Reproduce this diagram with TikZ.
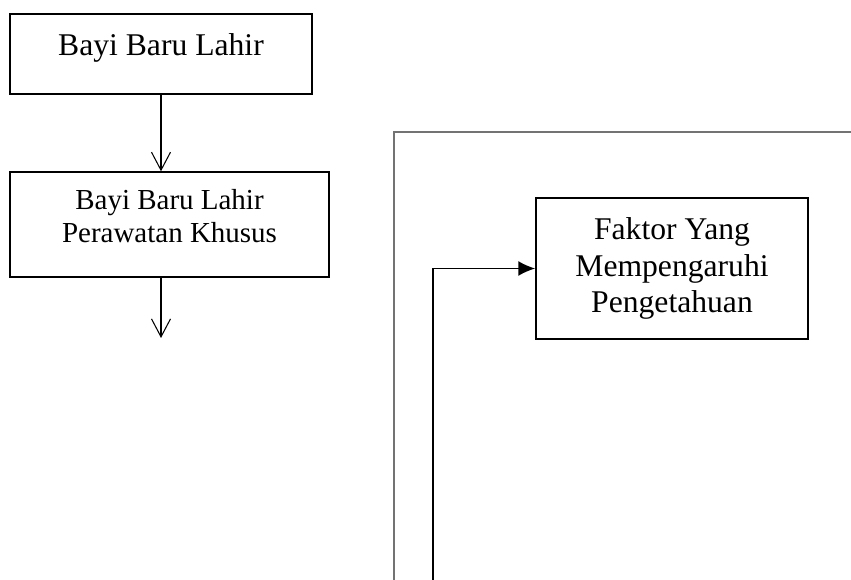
\documentclass[tikz,border=0pt]{standalone}
\usepackage{fontspec}
\setmainfont{Liberation Serif}
\usetikzlibrary{arrows.meta}
\begin{document}
\begin{tikzpicture}[x=0.02cm,y=-0.02cm]

    \tikzset{
      kotak/.style={
        draw,
        line width=0.8pt,
        inner sep=0pt,
        align=center,
        font=\fontsize{18pt}{20.8pt}\selectfont,
      },
      panah/.style={
        line width=0.6pt,
        -{Straight Barb[length=0.36cm,width=0.38cm]},
      },
      alur/.style={
        line width=1.1pt,
        -{Latex[length=0.34cm,width=0.3cm]},
      },
      bingkai/.style={
        draw=black!55,
        line width=0.9pt,
      },
    }
	\useasboundingbox (0,0) rectangle (851,580);
	\clip (0,0) rectangle (851,580);

	\node[kotak,minimum width=6.04cm,text height=0.82cm,text depth=0.78cm] (bayi) at (161,54.2) {Bayi Baru Lahir};
	\node[kotak,minimum width=6.38cm,text height=1.42cm,text depth=0.68cm,font=\fontsize{16.5pt}{18.8pt}\selectfont] (perawatan) at (169.5,224.5) {Bayi Baru Lahir\\Perawatan Khusus};
	\node[kotak,minimum width=5.44cm,text height=2.30cm,text depth=0.52cm] (faktor) at (672,268.5) {Faktor Yang\\Mempengaruhi\\Pengetahuan};

	\coordinate (ujung) at (161,338);
	\coordinate (masuk) at (433,600);

	\draw[bingkai] (394,600)--(394,132)--(870,132);
	\draw[panah] (bayi.south)--(bayi.south |- perawatan.north);
	\draw[panah] (perawatan.south -| bayi.south)--(ujung);
	\draw[alur] (masuk) |- (faktor.west);

\end{tikzpicture}
\end{document}
